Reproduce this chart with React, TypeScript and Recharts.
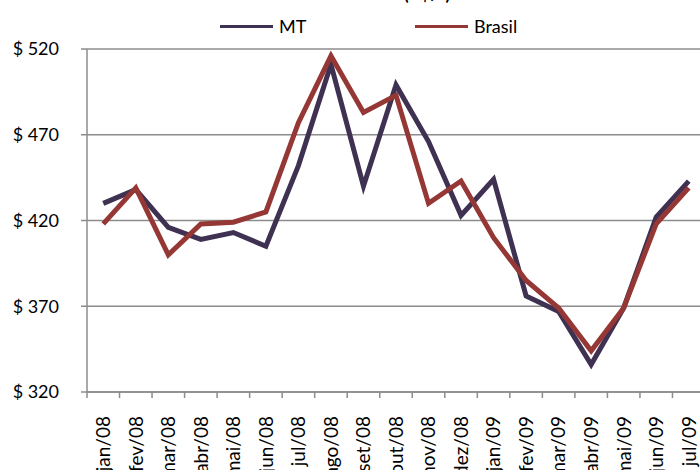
import { LineChart, Line, XAxis, YAxis, CartesianGrid } from 'recharts';

const months = [
  'jan/08', 'fev/08', 'mar/08', 'abr/08', 'mai/08', 'jun/08', 'jul/08', 'ago/08', 'set/08', 'out/08',
  'nov/08', 'dez/08', 'jan/09', 'fev/09', 'mar/09', 'abr/09', 'mai/09', 'jun/09', 'jul/09',
];
const mtValues = [430, 438, 416, 409, 413, 405, 452, 511, 440, 499, 466, 423, 444, 376, 367, 336, 369, 422, 443];
const brasilValues = [418, 439, 400, 418, 419, 425, 477, 516, 483, 493, 430, 443, 410, 385, 369, 344, 369, 418, 439];
const yTicks = [320, 370, 420, 470, 520];

const data = months.map((m, i) => ({ month: m, MT: mtValues[i], Brasil: brasilValues[i] }));

const FONT = 'Lato, "Open Sans", sans-serif';
const MT_COLOR = '#3f3151';
const BR_COLOR = '#953735';
const GRID = '#8c8c8c';

const CHART_W = 720;
const CHART_H = 470;
const MARGIN = { top: 49, right: 15, left: 0, bottom: 0 };
const Y_AXIS_W = 87;
const BAND = (CHART_W - MARGIN.left - MARGIN.right - Y_AXIS_W) / months.length;

function MonthTick(props: any) {
  const { x, y, payload } = props;
  return (
    <g>
      <line x1={x - BAND / 2} x2={x - BAND / 2} y1={y - 6} y2={y} stroke={GRID} strokeWidth={1.5} />
      <text
        x={0}
        y={0}
        transform={`translate(${x},${y + 18}) rotate(-90)`}
        textAnchor="end"
        dy="0.36em"
        fill="#000"
        fontSize={19}
        fontFamily={FONT}
      >
        {payload.value}
      </text>
    </g>
  );
}

function TopLegend() {
  const items = [
    { name: 'MT', color: MT_COLOR, left: 220 },
    { name: 'Brasil', color: BR_COLOR, left: 415 },
  ];
  return (
    <>
      {items.map((it) => (
        <div
          key={it.name}
          style={{
            position: 'absolute', left: it.left, top: 14, display: 'flex', alignItems: 'center',
            fontFamily: FONT, fontSize: 18, lineHeight: '24px',
          }}
        >
          <span style={{ display: 'inline-block', width: 53, height: 3, background: it.color, marginRight: 6 }} />
          <span>{it.name}</span>
        </div>
      ))}
    </>
  );
}

export default function App() {
  return (
    <div style={{ position: 'fixed', left: 0, top: 0, width: 700, height: 470, overflow: 'hidden', background: '#fff' }}>
      <LineChart width={CHART_W} height={CHART_H} data={data} margin={MARGIN}>
        <CartesianGrid vertical={false} stroke={GRID} strokeWidth={1.5} />
        <XAxis
          dataKey="month"
          interval={0}
          padding={{ left: BAND / 2, right: BAND / 2 }}
          height={CHART_H - 392 - MARGIN.bottom}
          axisLine={{ stroke: GRID, strokeWidth: 1.5 }}
          tickLine={false}
          tickSize={6}
          tickMargin={0}
          tick={<MonthTick />}
        />
        <YAxis
          domain={[320, 520]}
          ticks={yTicks}
          width={Y_AXIS_W}
          axisLine={{ stroke: GRID, strokeWidth: 1.5 }}
          tickLine={{ stroke: GRID, strokeWidth: 1.5 }}
          tickSize={6}
          tickMargin={22}
          tickFormatter={(v) => `$ ${v}`}
          tick={{ fill: '#000', fontSize: 18, fontFamily: FONT }}
        />
        <Line type="linear" dataKey="MT" stroke={MT_COLOR} strokeWidth={5} dot={false} isAnimationActive={false} />
        <Line type="linear" dataKey="Brasil" stroke={BR_COLOR} strokeWidth={5} dot={false} isAnimationActive={false} />
      </LineChart>
      <TopLegend />
      <div
        style={{
          position: 'absolute', left: 427, top: -18, transform: 'translateX(-50%)', fontFamily: FONT,
          fontWeight: 700, fontSize: 18, whiteSpace: 'nowrap',
        }}
      >
        (R$/t)
      </div>
    </div>
  );
}
